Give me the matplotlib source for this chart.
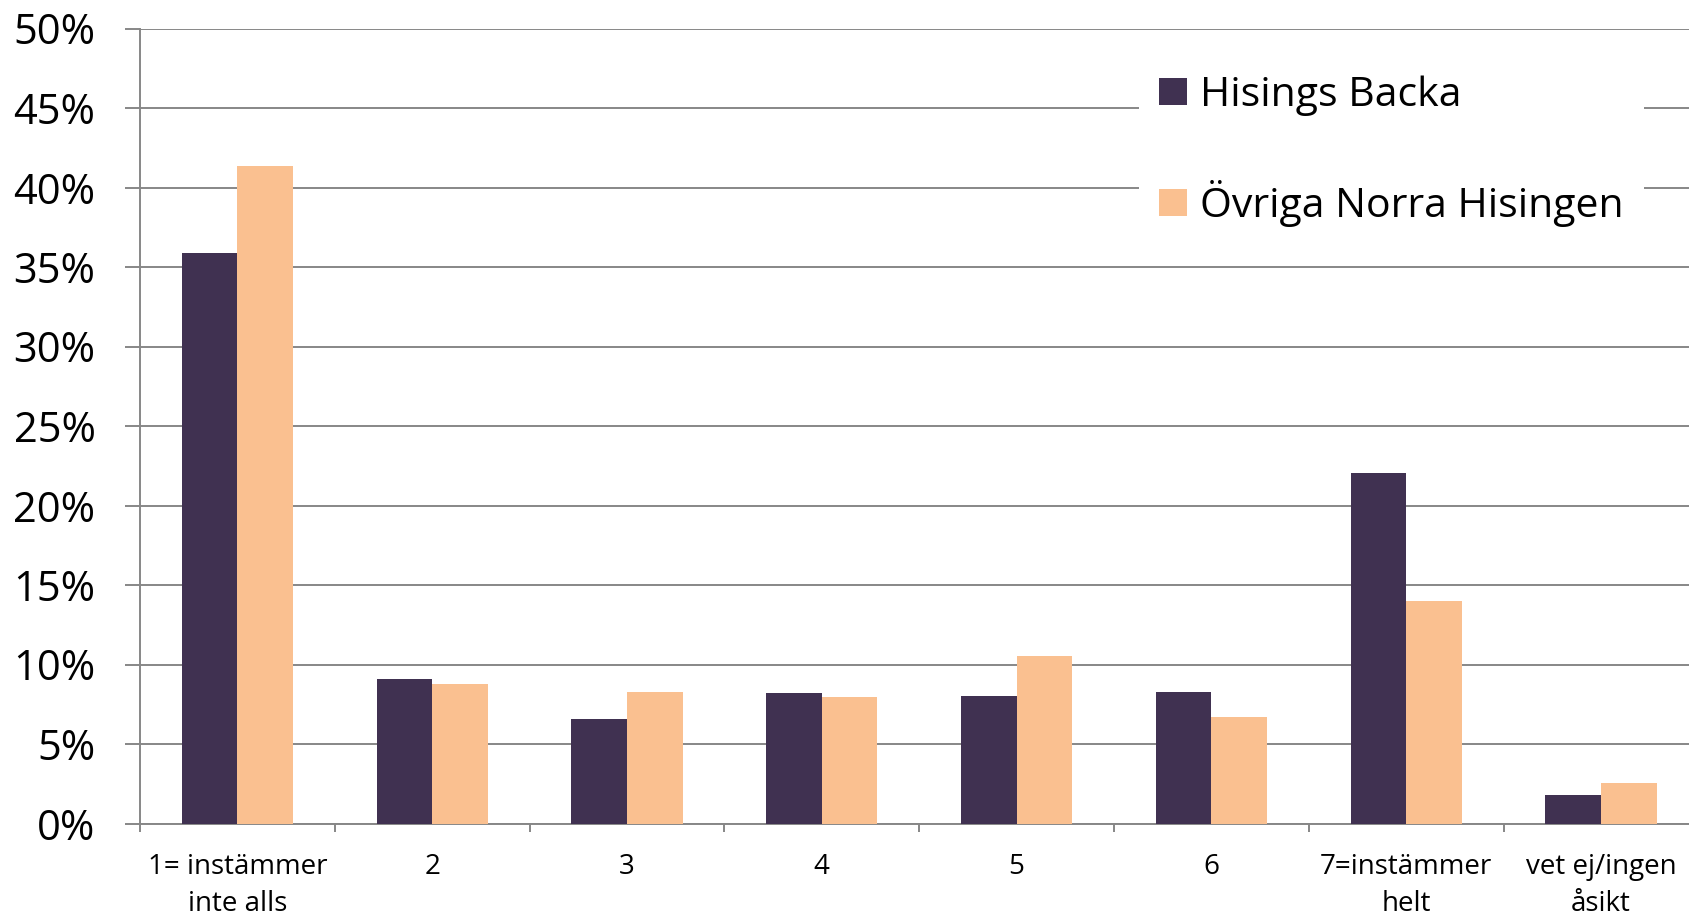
import numpy as np
import matplotlib
matplotlib.use("Agg")
import matplotlib.pyplot as plt
from matplotlib.ticker import FixedLocator

kategorier = ["1= instämmer\ninte alls", "2", "3", "4", "5", "6",
              "7=instämmer\nhelt", "vet ej/ingen\nåsikt"]
hisings_backa = [35.9, 9.1, 6.55, 8.2, 8.0, 8.3, 22.05, 1.8]
ovriga_norra = [41.35, 8.75, 8.25, 7.95, 10.55, 6.7, 14.0, 2.55]
serier = ["Hisings Backa", "Övriga Norra Hisingen"]
farger = ["#403151", "#FAC090"]

plt.rcParams["font.family"] = ["Open Sans", "DejaVu Sans"]

fig = plt.figure(figsize=(16.9, 9.18), dpi=100)
ax = fig.add_axes([140 / 1690, 94.5 / 918, 1558.4 / 1690, 795 / 918])

x = np.arange(len(kategorier))
b = 0.285
ax.bar(x - b / 2, hisings_backa, b, color=farger[0], label=serier[0], zorder=3)
ax.bar(x + b / 2, ovriga_norra, b, color=farger[1], label=serier[1], zorder=3)

ax.set_xlim(-0.5, len(kategorier) - 0.5)
ax.set_ylim(0, 50)
ax.set_yticks(np.arange(0, 51, 5))
ax.set_yticklabels([f"{v}%" for v in range(0, 51, 5)], fontsize=30)
ax.yaxis.grid(True, color="#878787", lw=1.4, zorder=0)
ax.set_axisbelow(True)

ax.set_xticks(x)
ax.set_xticklabels(kategorier, fontsize=20, linespacing=1.4)
ax.xaxis.set_minor_locator(FixedLocator(np.arange(-0.5, len(kategorier), 1)))
ax.tick_params(axis="x", which="major", length=0, pad=21.5)
ax.tick_params(axis="x", which="minor", length=6, width=1.4, color="#878787")
ax.tick_params(axis="y", length=11, width=1.4, color="#878787", pad=21)

for s in ["top", "right"]:
    ax.spines[s].set_visible(False)
for s in ["left", "bottom"]:
    ax.spines[s].set_color("#878787")
    ax.spines[s].set_linewidth(1.4)

leg = ax.legend(loc="upper left", bbox_to_anchor=(1139 / 1690, 0.94),
                bbox_transform=fig.transFigure, fontsize=29.5, frameon=True,
                fancybox=False, edgecolor="none", facecolor="white",
                framealpha=1, handlelength=0.66, handleheight=0.66,
                handletextpad=0.32, labelspacing=1.56, borderpad=0.5,
                borderaxespad=0)

fig.savefig("out.png", dpi=100)
